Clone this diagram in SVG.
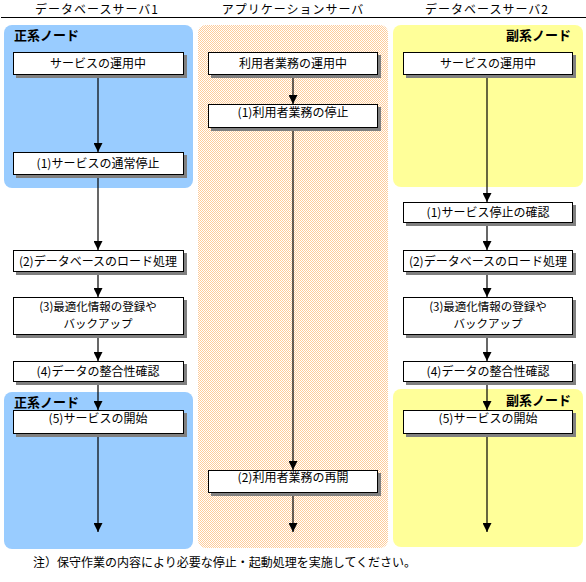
<svg xmlns="http://www.w3.org/2000/svg" width="586" height="582" viewBox="0 0 586 582">
<defs>
<pattern id="chk" width="2" height="2" patternUnits="userSpaceOnUse">
<rect width="2" height="2" fill="#FFFFFF"/>
<rect width="1" height="1" fill="#FFCC99"/>
<rect x="1" y="1" width="1" height="1" fill="#FFCC99"/>
</pattern>
<marker id="ah" viewBox="0 0 10 10" refX="10" refY="5" markerWidth="9" markerHeight="9" markerUnits="userSpaceOnUse" orient="auto">
<path d="M0,0 L10,5 L0,10 Z" fill="#000"/>
</marker>
</defs>
<style>
text{font-family:"Noto Sans CJK JP","Noto Sans",sans-serif;font-size:12px;fill:#000}
.hd{text-anchor:middle;letter-spacing:1px}
.lbl{font-weight:bold;font-size:13px}
.bx rect.s{fill:#808080}
.bx rect.b{fill:#FFFFFF;stroke:#000;stroke-width:1}
.bx text{text-anchor:middle}
.bx text.t2{font-size:11.5px}
.cn line{stroke:#000;stroke-width:1.2;marker-end:url(#ah)}
</style>
<rect width="586" height="582" fill="#FFFFFF"/>
<g id="headers">
<text class="hd" x="97" y="13.5">データベースサーバ1</text>
<text class="hd" x="293" y="13.5">アプリケーションサーバ</text>
<text class="hd" x="487" y="13.5">データベースサーバ2</text>
<line x1="1" y1="17.5" x2="586" y2="17.5" stroke="#000" stroke-width="1"/>
</g>
<g id="panels">
<rect x="4" y="25" width="189" height="163" rx="8" fill="#99CCFF"/>
<rect x="4" y="392" width="189" height="157" rx="8" fill="#99CCFF"/>
<rect x="198" y="25" width="190" height="523" rx="8" fill="url(#chk)"/>
<rect x="393" y="25" width="190" height="162" rx="8" fill="#FFFF99"/>
<rect x="393" y="389" width="190" height="158" rx="8" fill="#FFFF99"/>
<text class="lbl" x="14" y="40">正系ノード</text>
<text class="lbl" x="14" y="407">正系ノード</text>
<text class="lbl" x="571" y="40" text-anchor="end">副系ノード</text>
<text class="lbl" x="571" y="405" text-anchor="end">副系ノード</text>
</g>
<g id="connectors" class="cn">
<line x1="98" y1="75" x2="98" y2="152"/>
<line x1="98" y1="175" x2="98" y2="250"/>
<line x1="98" y1="272" x2="98" y2="297"/>
<line x1="98" y1="335" x2="98" y2="361"/>
<line x1="98" y1="382" x2="98" y2="410"/>
<line x1="98" y1="434" x2="98" y2="532"/>
<line x1="293" y1="75" x2="293" y2="104"/>
<line x1="293" y1="128" x2="293" y2="470"/>
<line x1="293" y1="493" x2="293" y2="532"/>
<line x1="487" y1="75" x2="487" y2="202"/>
<line x1="487" y1="223" x2="487" y2="250"/>
<line x1="487" y1="272" x2="487" y2="297"/>
<line x1="487" y1="335" x2="487" y2="361"/>
<line x1="487" y1="382" x2="487" y2="410"/>
<line x1="487" y1="434" x2="487" y2="532"/>
</g>
<g id="l-run" class="bx"><rect class="s" x="16" y="55" width="171" height="23"/><rect class="b" x="13.5" y="52.5" width="170" height="22"/><text x="98" y="68">サービスの運用中</text></g>
<g id="l-1" class="bx"><rect class="s" x="16" y="155" width="171" height="23"/><rect class="b" x="13.5" y="152.5" width="170" height="22"/><text x="98" y="168">(1)サービスの通常停止</text></g>
<g id="l-2" class="bx"><rect class="s" x="16" y="253" width="171" height="22"/><rect class="b" x="13.5" y="250.5" width="170" height="21"/><text x="98" y="265.5">(2)データベースのロード処理</text></g>
<g id="l-3" class="bx"><rect class="s" x="16" y="300" width="171" height="38"/><rect class="b" x="13.5" y="297.5" width="170" height="37"/><text class="t2" x="98" y="311">(3)最適化情報の登録や</text><text class="t2" x="98" y="328">バックアップ</text></g>
<g id="l-4" class="bx"><rect class="s" x="16" y="364" width="171" height="21"/><rect class="b" x="13.5" y="361.5" width="170" height="20"/><text x="98" y="375.5">(4)データの整合性確認</text></g>
<g id="l-5" class="bx"><rect class="s" x="16" y="413" width="171" height="24"/><rect class="b" x="13.5" y="410.5" width="170" height="23"/><text x="98" y="423">(5)サービスの開始</text></g>
<g id="m-run" class="bx"><rect class="s" x="211" y="55" width="170" height="23"/><rect class="b" x="208.5" y="52.5" width="169" height="22"/><text x="293" y="68">利用者業務の運用中</text></g>
<g id="m-1" class="bx"><rect class="s" x="211" y="107" width="170" height="24"/><rect class="b" x="208.5" y="104.5" width="169" height="23"/><text x="293" y="117">(1)利用者業務の停止</text></g>
<g id="m-2" class="bx"><rect class="s" x="211" y="473" width="170" height="23"/><rect class="b" x="208.5" y="470.5" width="169" height="22"/><text x="293" y="482">(2)利用者業務の再開</text></g>
<g id="r-run" class="bx"><rect class="s" x="406" y="55" width="170" height="23"/><rect class="b" x="403.5" y="52.5" width="169" height="22"/><text x="488" y="68">サービスの運用中</text></g>
<g id="r-1" class="bx"><rect class="s" x="406" y="205" width="170" height="21"/><rect class="b" x="403.5" y="202.5" width="169" height="20"/><text x="488" y="216.5">(1)サービス停止の確認</text></g>
<g id="r-2" class="bx"><rect class="s" x="406" y="253" width="170" height="22"/><rect class="b" x="403.5" y="250.5" width="169" height="21"/><text x="488" y="265.5">(2)データベースのロード処理</text></g>
<g id="r-3" class="bx"><rect class="s" x="406" y="300" width="170" height="38"/><rect class="b" x="403.5" y="297.5" width="169" height="37"/><text class="t2" x="488" y="311">(3)最適化情報の登録や</text><text class="t2" x="488" y="328">バックアップ</text></g>
<g id="r-4" class="bx"><rect class="s" x="406" y="364" width="170" height="21"/><rect class="b" x="403.5" y="361.5" width="169" height="20"/><text x="488" y="375.5">(4)データの整合性確認</text></g>
<g id="r-5" class="bx"><rect class="s" x="406" y="413" width="170" height="24"/><rect class="b" x="403.5" y="410.5" width="169" height="23"/><text x="488" y="423">(5)サービスの開始</text></g>
<text x="33" y="567">注）保守作業の内容により必要な停止・起動処理を実施してください。</text>
</svg>
